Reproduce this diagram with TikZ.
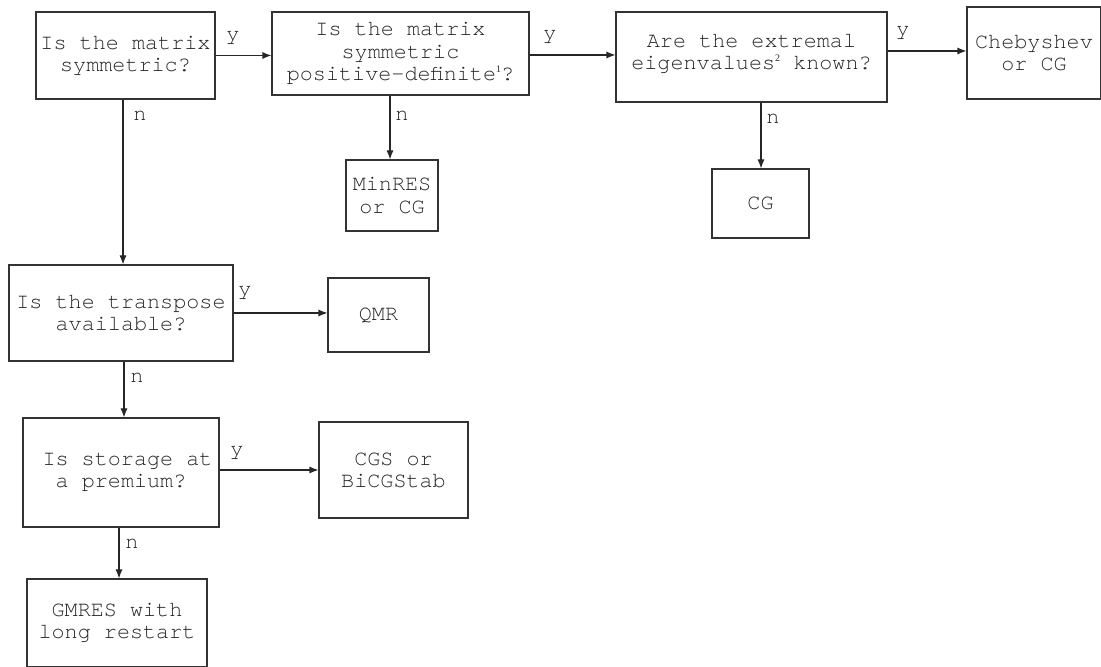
\documentclass[tikz,border=0pt]{standalone}
\usepackage{fontspec}
\setmainfont{TeX Gyre Cursor}
\newfontfamily\supfont{Liberation Serif}
\usetikzlibrary{arrows.meta}
\newcommand{\sups}[1]{\raisebox{0.9ex}{\supfont\fontsize{5}{5}\selectfont #1}}
\tikzset{
  box/.style={draw=black!80, line width=0.55pt, inner sep=0pt, align=center,
    text=black!85, font=\fontsize{10.9}{11.1}\selectfont},
  lbl/.style={inner sep=0pt, text=black!85, font=\fontsize{10.9}{11.1}\selectfont},
  arr/.style={draw=black!85, line width=0.55pt, -{Latex[length=4.5pt,width=3.5pt]}}
}
\begin{document}
\begin{tikzpicture}[x=0.5pt,y=-0.5pt]
\useasboundingbox (0,0) rectangle (1101,667);
% boxes
\node[box, minimum width=89.5pt, minimum height=43.5pt] (b1) at (125.5,55.5) {Is the matrix\\symmetric?};
\node[box, minimum width=128.5pt, minimum height=41.5pt] (b2) at (400.5,53.5) {Is the matrix\\symmetric\\positive-definite\sups{1}?};
\node[box, minimum width=135.5pt, minimum height=45pt] (b3) at (751.5,57) {};
\node[lbl, align=center] (b3t) at (751.5,54) {Are the extremal\\eigenvalues\sups{2} known?};
\node[box, minimum width=67pt, minimum height=46pt] (b4) at (1034,53) {Chebyshev\\or CG};
\node[box, minimum width=46pt, minimum height=35.5pt] (mr) at (392,195.5) {MinRES\\or CG};
\node[box, minimum width=48.5pt, minimum height=34.5pt] (cg) at (760.5,203.5) {CG};
\node[box, minimum width=112pt, minimum height=48pt] (tr) at (121,313) {Is the transpose\\available?};
\node[box, minimum width=50.5pt, minimum height=37pt] (qm) at (378.5,315) {QMR};
\node[box, minimum width=98pt, minimum height=54.5pt] (st) at (121,472.5) {\ Is storage at\\a premium?};
\node[box, minimum width=74.5pt, minimum height=48pt] (cs) at (393.5,470) {CGS or\\BiCGStab};
\node[box, minimum width=90pt, minimum height=44pt] (gm) at (117,623) {GMRES with\\long restart};
% connectors
\draw[arr] (b1.east) -- (b1.east -| b2.west);
\draw[arr] ([yshift=-0.75pt]b2.east) -- ([yshift=-0.75pt]b2.east -| b3.west);
\draw[arr] ([yshift=3pt]b3.east) -- ([yshift=3pt]b3.east -| b4.west);
\draw[arr] ([xshift=-1.25pt]b1.south) -- ([xshift=-1.25pt]b1.south |- tr.north);
\draw[arr] ([xshift=-5.25pt]b2.south) -- ([xshift=-5.25pt]b2.south |- mr.north);
\draw[arr] ([xshift=4.75pt]b3.south) -- ([xshift=4.75pt]b3.south |- cg.north);
\draw[arr] (tr.east) -- (tr.east -| qm.west);
\draw[arr] ([xshift=1.5pt]tr.south) -- ([xshift=1.5pt]tr.south |- st.north);
\draw[arr] ([yshift=1.25pt]st.east) -- ([yshift=1.25pt]st.east -| cs.west);
\draw[arr] ([xshift=-1pt]st.south) -- ([xshift=-1pt]st.south |- gm.north);
% labels
\node[lbl] (y1) at (233,38) {y};
\node[lbl] (y2) at (550,37) {y};
\node[lbl] (y3) at (903,33) {y};
\node[lbl] (y4) at (245,293) {y};
\node[lbl] (y5) at (237,453) {y};
\node[lbl] (n1) at (140,116) {n};
\node[lbl] (n2) at (402,116) {n};
\node[lbl] (n3) at (773,119) {n};
\node[lbl] (n4) at (137,378) {n};
\node[lbl] (n5) at (132,544) {n};
\end{tikzpicture}
\end{document}
